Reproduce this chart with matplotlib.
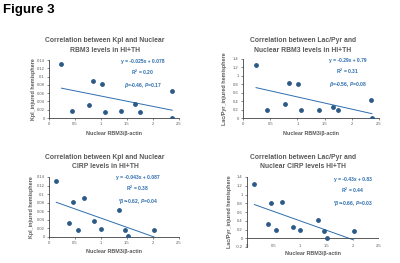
import matplotlib
matplotlib.use("Agg")
import matplotlib.pyplot as plt

plt.rcParams['font.family'] = ['Liberation Sans', 'DejaVu Sans']
plt.rcParams['mathtext.fontset'] = 'custom'
plt.rcParams['mathtext.it'] = 'Liberation Sans:italic:bold'
plt.rcParams['mathtext.rm'] = 'Liberation Sans:bold'

# data
rbm3 = [0.24, 0.45, 0.77, 0.85, 1.01, 1.07, 1.39, 1.66, 1.75, 2.36, 2.37]
kpl_rbm3 = [0.13, 0.016, 0.032, 0.09, 0.082, 0.014, 0.018, 0.034, 0.014, 0.064, 0.0]
lp_rbm3 = [1.25, 0.18, 0.33, 0.82, 0.80, 0.18, 0.18, 0.26, 0.18, 0.43, 0.01]

cirp = [0.14, 0.39, 0.46, 0.55, 0.67, 0.87, 1.0, 1.34, 1.46, 1.52, 2.02]
kpl_cirp = [0.13, 0.032, 0.081, 0.017, 0.09, 0.037, 0.019, 0.064, 0.016, 0.002, 0.017]
lp_cirp = [1.23, 0.33, 0.81, 0.2, 0.82, 0.25, 0.19, 0.42, 0.17, 0.01, 0.17]

fits = [(-0.025, 0.078), (-0.29, 0.79), (-0.043, 0.087), (-0.43, 0.83)]
titles = ["Correlation between Kpl and Nuclear\nRBM3 levels in HI+TH",
          "Correlation between Lac/Pyr and\nNuclear RBM3 levels in HI+TH",
          "Correlation between Kpl and Nuclear\nCIRP levels in HI+TH",
          "Correlation between Lac/Pyr and\nNuclear CIRP levels HI+TH"]
notes = ["y = -0.025x + 0.078\nR$^2$ = 0.20\n$\\beta$=-0.46, $P$=0.17",
         "y = -0.29x + 0.79\nR$^2$ = 0.31\n$\\beta$=-0.56, $P$=0.08",
         "y = -0.043x + 0.087\nR$^2$ = 0.38\n*$\\beta$=-0.62, $P$=0.04",
         "y = -0.43x + 0.83\nR$^2$ = 0.44\n*$\\beta$=-0.66, $P$=0.03"]
ylabels = ["Kpl_injured hemisphere", "Lac/Pyr_injured hemisphere",
           "Kpl_injured hemisphere", "Lac/Pyr_injured hemisphere"]

W, H = 400, 263
fig = plt.figure(figsize=(4, 2.63), dpi=100)
fig.patch.set_facecolor('white')

def px(x, y):
    return x / W, 1 - y / H

panels = [
    # x, y, ylim, yticks, ytick labels, axes rect (px: left, right, top, bottom)
    (rbm3, kpl_rbm3, (0, 0.14), [0, .02, .04, .06, .08, .1, .12, .14],
     ['0', '0.02', '0.04', '0.06', '0.08', '0.1', '0.12', '0.14'], (49, 179, 60, 118)),
    (rbm3, lp_rbm3, (0, 1.4), [0, .2, .4, .6, .8, 1, 1.2, 1.4],
     ['0', '0.2', '0.4', '0.6', '0.8', '1', '1.2', '1.4'], (243, 379, 59, 118)),
    (cirp, kpl_cirp, (0, 0.14), [0, .02, .04, .06, .08, .1, .12, .14],
     ['0', '0.02', '0.04', '0.06', '0.08', '0.1', '0.12', '0.14'], (49, 179, 177, 237)),
    (cirp, lp_cirp, (-0.2, 1.4), [-.2, 0, .2, .4, .6, .8, 1, 1.2, 1.4],
     ['-0.2', '0', '0.2', '0.4', '0.6', '0.8', '1', '1.2', '1.4'], (247, 379, 177, 247)),
]
title_pos = [(105, 37), (303, 37), (105, 154), (303, 154)]
note_pos = [(143, 59), (348, 58), (138, 175), (353, 177)]
xlab_y = [134, 134, 252, 253]
ylab_x = [33, 224, 31, 229]

grey = '#595959'
dot = '#2B5A86'
blue = '#2E6EAE'

for i, (xs, ys, ylim, yt, ytl, (l, r, t, b)) in enumerate(panels):
    ax = fig.add_axes([l / W, 1 - b / H, (r - l) / W, (b - t) / H])
    ax.scatter(xs, ys, s=6, color=dot, zorder=3)
    a, c = fits[i]
    x0, x1 = min(xs), max(xs)
    ax.plot([x0, x1], [a * x0 + c, a * x1 + c], color=blue, lw=0.7)
    ax.set_xlim(0, 2.5)
    ax.set_ylim(*ylim)
    ax.set_xticks([0, 0.5, 1, 1.5, 2, 2.5])
    ax.set_xticklabels(['0', '0.5', '1', '1.5', '2', '2.5'])
    ax.set_yticks(yt)
    ax.set_yticklabels(ytl)
    ax.tick_params(labelsize=3, colors=grey, length=1.5, width=0.5, pad=1.5)
    for s in ['top', 'right']:
        ax.spines[s].set_visible(False)
    for s in ['left', 'bottom']:
        ax.spines[s].set_color('#404040')
        ax.spines[s].set_linewidth(0.6)
    if ylim[0] < 0:
        # horizontal axis crosses at 0, labels stay at the bottom
        ax.spines['bottom'].set_visible(False)
        ax.axhline(0, color='#404040', lw=0.6)
        ax.tick_params(axis='x', length=0, pad=-2.5)
    ax.patch.set_alpha(0)

    tx, ty = px(*title_pos[i])
    fig.text(tx, ty, titles[i], ha='center', va='top', fontsize=4.9,
             fontweight='bold', color=grey, linespacing=1.5)
    nx, ny = px(*note_pos[i])
    fig.text(nx, ny, notes[i], ha='center', va='top', fontsize=3.6,
             fontweight='bold', color=blue, linespacing=1.55)
    fig.text((l + r) / 2 / W, 1 - xlab_y[i] / H, "Nuclear RBM3/\u03b2-actin",
             ha='center', va='center', fontsize=3.9, fontweight='bold', color=grey)
    fig.text(ylab_x[i] / W, 1 - (t + b) / 2 / H, ylabels[i], ha='center',
             va='center', rotation=90, fontsize=3.9, fontweight='bold', color=grey)

fig.text(3 / W, 1 - 10.5 / H, "Figure 3", ha='left', va='center', fontsize=9.5,
         fontweight='bold', color='black')

fig.savefig("out.png", dpi=100)
